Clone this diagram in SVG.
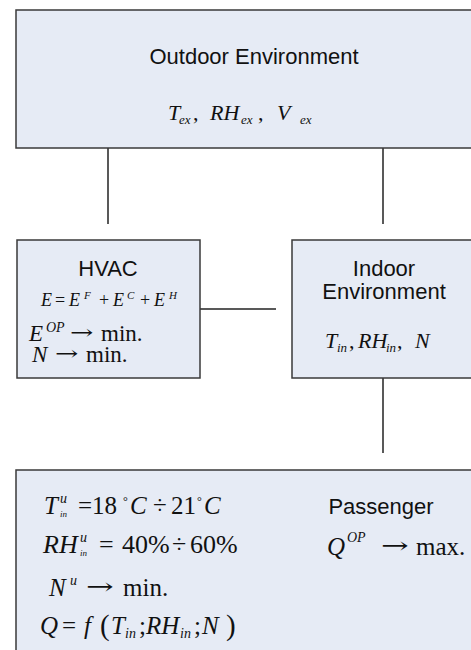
<svg xmlns="http://www.w3.org/2000/svg" width="471" height="650" viewBox="0 0 471 650">
<style>
.box{fill:#e6ebf5;stroke:#3a3a3a;stroke-width:1.5}
.lbl{font-family:"Liberation Sans",Arial,sans-serif;font-size:22px;fill:#111;text-anchor:middle}
.m{font-family:"Liberation Serif","Times New Roman",serif;fill:#111}
.ar{font-family:"DejaVu Serif",serif;fill:#111}
.i{font-style:italic}
.con line{stroke:#222;stroke-width:1.5}
</style>
<rect width="471" height="650" fill="#fff"/>
<g id="connectors" class="con">
<line x1="108" y1="148" x2="108" y2="224"/>
<line x1="383" y1="148" x2="383" y2="224"/>
<line x1="200" y1="309" x2="276" y2="309"/>
<line x1="383" y1="378" x2="383" y2="453"/>
</g>
<g id="outdoor">
<rect class="box" x="16" y="10" width="470" height="138"/>
<text class="lbl" x="254" y="64">Outdoor Environment</text>
<text class="m" font-size="22"><tspan class="i" x="168" y="120">T</tspan><tspan class="i" x="179" y="124" font-size="13">ex</tspan><tspan x="193" y="120">,</tspan><tspan class="i" x="210" y="120">RH</tspan><tspan class="i" x="241" y="124" font-size="13">ex</tspan><tspan x="258" y="120">,</tspan><tspan class="i" x="277" y="120">V</tspan><tspan class="i" x="300" y="124" font-size="13">ex</tspan></text>
</g>
<g id="hvac">
<rect class="box" x="17" y="240" width="183" height="138"/>
<text class="lbl" x="108" y="276">HVAC</text>
<text class="m" font-size="18"><tspan class="i" x="41" y="306">E</tspan><tspan x="55" y="306">=</tspan><tspan class="i" x="69" y="306">E</tspan><tspan class="i" x="84" y="299" font-size="11">F</tspan><tspan x="99" y="306">+</tspan><tspan class="i" x="113" y="306">E</tspan><tspan class="i" x="127" y="299" font-size="11">C</tspan><tspan x="140" y="306">+</tspan><tspan class="i" x="154" y="306">E</tspan><tspan class="i" x="169" y="299" font-size="11">H</tspan></text>
<text class="m" font-size="23"><tspan class="i" x="29" y="341">E</tspan><tspan class="i" x="46" y="332" font-size="14">OP</tspan><tspan x="101" y="341">min.</tspan></text>
<text class="ar" font-size="20" transform="translate(70 339) scale(1.4 1)">→</text>
<text class="m" font-size="23"><tspan class="i" x="32" y="362">N</tspan><tspan x="86" y="362">min.</tspan></text>
<text class="ar" font-size="20" transform="translate(55 360) scale(1.4 1)">→</text>
</g>
<g id="indoor">
<rect class="box" x="292" y="240" width="190" height="138"/>
<text class="lbl" x="384" y="276">Indoor</text>
<text class="lbl" x="384" y="299">Environment</text>
<text class="m" font-size="22"><tspan class="i" x="325" y="348">T</tspan><tspan class="i" x="337" y="352" font-size="13">in</tspan><tspan x="349" y="348">,</tspan><tspan class="i" x="358" y="348">RH</tspan><tspan class="i" x="386" y="352" font-size="13">in</tspan><tspan x="397" y="348">,</tspan><tspan class="i" x="415" y="348">N</tspan></text>
</g>
<g id="passenger">
<rect class="box" x="16" y="470" width="470" height="200"/>
<text class="lbl" x="381" y="514">Passenger</text>
<text class="m" font-size="25"><tspan class="i" x="327" y="555">Q</tspan><tspan class="i" x="347" y="542" font-size="14">OP</tspan><tspan x="416" y="555">max.</tspan></text>
<text class="ar" font-size="22" transform="translate(381 553) scale(1.5 1)">→</text>
<text class="m" font-size="25"><tspan class="i" x="44" y="514">T</tspan><tspan class="i" x="60" y="503" font-size="14">u</tspan><tspan class="i" x="60" y="517" font-size="9">in</tspan><tspan x="78" y="514">=18</tspan><tspan x="123" y="505" font-size="12">°</tspan><tspan class="i" x="130" y="514">C</tspan><tspan x="153" y="514">÷</tspan><tspan x="171" y="514">21</tspan><tspan x="197" y="505" font-size="12">°</tspan><tspan class="i" x="204" y="514">C</tspan></text>
<text class="m" font-size="26"><tspan class="i" x="43" y="553">RH</tspan><tspan class="i" x="80" y="542" font-size="14">u</tspan><tspan class="i" x="80" y="556" font-size="9">in</tspan><tspan x="99" y="553">=</tspan><tspan x="122" y="553">40%</tspan><tspan x="172" y="553">÷</tspan><tspan x="190" y="553">60%</tspan></text>
<text class="m" font-size="25"><tspan class="i" x="49" y="596">N</tspan><tspan class="i" x="70" y="585" font-size="14">u</tspan><tspan x="123" y="596">min.</tspan></text>
<text class="ar" font-size="22" transform="translate(86 594) scale(1.5 1)">→</text>
<text class="m" font-size="25"><tspan class="i" x="40" y="634">Q</tspan><tspan x="62" y="634">=</tspan><tspan class="i" x="84" y="634">f</tspan><tspan x="100" y="635" font-size="29">(</tspan><tspan class="i" x="111" y="634">T</tspan><tspan class="i" x="125" y="638" font-size="14">in</tspan><tspan x="139" y="634">;</tspan><tspan class="i" x="146" y="634">RH</tspan><tspan class="i" x="180" y="638" font-size="14">in</tspan><tspan x="194" y="634">;</tspan><tspan class="i" x="202" y="634">N</tspan><tspan x="226" y="635" font-size="29">)</tspan></text>
</g>
</svg>
